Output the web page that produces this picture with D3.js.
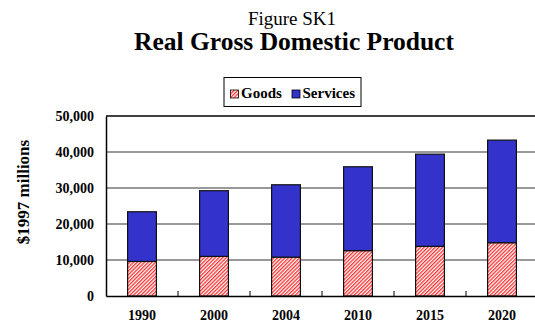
<!DOCTYPE html>
<html>
<head>
<meta charset="utf-8">
<title>Real Gross Domestic Product</title>
<script src="https://cdn.jsdelivr.net/npm/d3@7"></script>
<style>
  body { margin: 0; background: #fff; }
  svg text { font-family: "Liberation Serif", "Times New Roman", serif; fill: #000; }
</style>
</head>
<body>
<div id="chart"></div>
<script>
// data
var years = ["1990", "2000", "2004", "2010", "2015", "2020"];
var goods = [9600, 11000, 10800, 12600, 13800, 14800];
var services = [13800, 18250, 20100, 23300, 25600, 28500];
var yTicks = [0, 10000, 20000, 30000, 40000, 50000];
var seriesNames = ["Goods", "Services"];

var W = 535, H = 326;
var margin = {top: 116, right: -3, bottom: 30, left: 106},
    width = W - margin.left - margin.right,
    height = H - margin.top - margin.bottom;

var svg = d3.select("#chart").append("svg")
    .attr("width", W)
    .attr("height", H);

// hatch pattern for goods
var defs = svg.append("defs");
var pat = defs.append("pattern")
    .attr("id", "hatch")
    .attr("patternUnits", "userSpaceOnUse")
    .attr("width", 2.6).attr("height", 2.6)
    .attr("patternTransform", "rotate(45)");
pat.append("rect").attr("width", 2.6).attr("height", 2.6).attr("fill", "#fff");
pat.append("rect").attr("width", 1.3).attr("height", 2.6).attr("fill", "#ff3030");

// titles
svg.append("text")
    .attr("x", 292).attr("y", 25)
    .attr("text-anchor", "middle")
    .style("font-size", "19px")
    .text("Figure SK1");
svg.append("text")
    .attr("x", 294).attr("y", 50)
    .attr("text-anchor", "middle")
    .style("font-size", "25.5px")
    .style("font-weight", "bold")
    .text("Real Gross Domestic Product");

var g = svg.append("g")
    .attr("transform", "translate(" + margin.left + "," + margin.top + ")");

var x = d3.scaleBand()
    .domain(years)
    .range([0, width])
    .paddingInner(0.6)
    .paddingOuter(0.3);

var y = d3.scaleLinear()
    .domain([0, 50000])
    .range([height, 0]);

// gridlines
g.selectAll(".grid")
    .data(yTicks.slice(1, -1))
    .enter().append("line")
    .attr("x1", 0).attr("x2", width)
    .attr("y1", function(d) { return y(d); })
    .attr("y2", function(d) { return y(d); })
    .attr("stroke", "#777")
    .attr("stroke-width", 1.5);

// frame top
g.append("line")
    .attr("x1", 0).attr("x2", width)
    .attr("y1", 0).attr("y2", 0)
    .attr("stroke", "#000").attr("stroke-width", 1.5);

// stacked data
var rows = years.map(function(yr, i) { return {year: yr, Goods: goods[i], Services: services[i]}; });
var stack = d3.stack().keys(seriesNames)(rows);
var fills = {Goods: "url(#hatch)", Services: "#3333cc"};

g.selectAll(".layer")
    .data(stack)
    .enter().append("g")
    .attr("fill", function(d) { return fills[d.key]; })
  .selectAll("rect")
    .data(function(d) { return d; })
    .enter().append("rect")
    .attr("x", function(d) { return x(d.data.year); })
    .attr("width", x.bandwidth())
    .attr("y", function(d) { return y(d[1]); })
    .attr("height", function(d) { return y(d[0]) - y(d[1]); })
    .attr("stroke", "#111")
    .attr("stroke-width", 1.2);

// y axis
var yAxis = g.append("g")
    .call(d3.axisLeft(y).tickValues(yTicks).tickSize(0).tickPadding(12).tickFormat(d3.format(",")));
yAxis.select(".domain").attr("stroke", "#000").attr("stroke-width", 1.5);
yAxis.selectAll("text")
    .style("font-size", "14px")
    .style("font-weight", "bold")
    .style("font-family", "'Liberation Serif', 'Times New Roman', serif");

// x axis
var xAxis = g.append("g")
    .attr("transform", "translate(0," + height + ")")
    .call(d3.axisBottom(x).tickSize(0).tickPadding(14));
xAxis.select(".domain").attr("stroke", "#000").attr("stroke-width", 1.5);
xAxis.selectAll("text")
    .style("font-size", "14px")
    .style("font-weight", "bold")
    .style("font-family", "'Liberation Serif', 'Times New Roman', serif");

// small inside ticks between categories
g.selectAll(".xtick")
    .data(years.slice(0, -1))
    .enter().append("line")
    .attr("x1", function(d) { return x(d) + x.bandwidth() + x.step() * x.paddingInner() / 2; })
    .attr("x2", function(d) { return x(d) + x.bandwidth() + x.step() * x.paddingInner() / 2; })
    .attr("y1", height).attr("y2", height - 5)
    .attr("stroke", "#000").attr("stroke-width", 1);

// y title
svg.append("text")
    .attr("transform", "translate(29,192) rotate(-90)")
    .attr("text-anchor", "middle")
    .style("font-size", "17px")
    .style("font-weight", "bold")
    .text("$1997 millions");

// legend
var legend = svg.append("g");
legend.append("rect")
    .attr("x", 224).attr("y", 77.5)
    .attr("width", 137).attr("height", 29)
    .attr("fill", "#fff").attr("stroke", "#000").attr("stroke-width", 1);
var legX = [230.5, 292];
seriesNames.forEach(function(name, i) {
  legend.append("rect")
      .attr("x", legX[i]).attr("y", 90)
      .attr("width", 8).attr("height", 8)
      .attr("fill", fills[name])
      .attr("stroke", "#000").attr("stroke-width", 0.8);
  legend.append("text")
      .attr("x", legX[i] + 10.5).attr("y", 98)
      .style("font-size", "15px")
      .style("font-weight", "bold")
      .text(name);
});
</script>
</body>
</html>
